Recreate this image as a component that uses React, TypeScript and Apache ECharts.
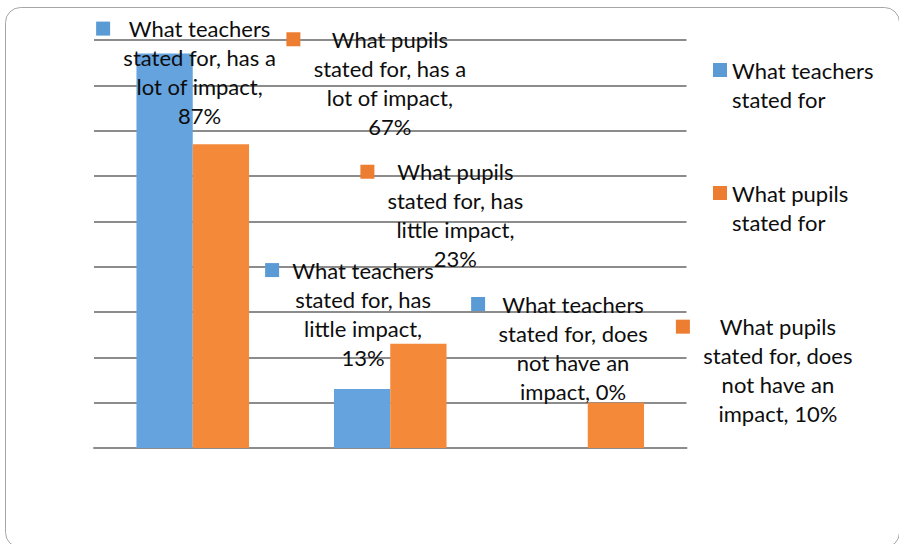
import React, { useEffect, useRef } from 'react';
import * as echarts from 'echarts';

// ---- data ----
const seriesNames = ['What teachers stated for', 'What pupils stated for'];
const categories = ['has a lot of impact', 'has little impact', 'does not have an impact'];
const teachersValues = [87, 13, 0];
const pupilsValues = [67, 23, 10];
// wrapped text of each category in the data labels ({v} = value)
const labelLineTemplates = [
  ['stated for, has a', 'lot of impact,', '{v}%'],
  ['stated for, has', 'little impact,', '{v}%'],
  ['stated for, does', 'not have an', 'impact, {v}%'],
];

// ---- layout / style ----
const FONT = 'Lato';
const FS = 22;
const LH = 29;
const TEXT_COLOR = '#0d0d0d';
const barColors = ['#65A3DF', '#F5893A'];
const keyColors = ['#5B9BD5', '#ED7D31'];
const labelOffsets = [
  [[22, 76.5], [-12, -17.5], [0.5, -42.5]],
  [[156, -3.5], [24, -70.5], [149, 25.5]],
];

function measure(text: string): number {
  const c = document.createElement('canvas');
  const ctx = c.getContext('2d');
  if (!ctx) return text.length * FS * 0.5;
  ctx.font = `${FS}px ${FONT}`;
  return ctx.measureText(text).width;
}

function buildLabel(si: number, ci: number, v: number) {
  const head = seriesNames[si].replace(' stated for', '');
  const lines = [head, ...labelLineTemplates[ci].map((l) => l.replace('{v}', String(v)))];
  const W = Math.ceil(Math.max(...lines.map(measure))) + 2;
  const formatter = lines
    .map((l, i) => (i === 0 ? `{sq|}{g|}{t|${l}}` : `{p|}{t|${l}}`))
    .join('\n');
  const rich = {
    sq: { width: 14, height: 14, backgroundColor: keyColors[si], lineHeight: LH },
    g: { width: 12, lineHeight: LH },
    p: { width: 26, lineHeight: LH },
    t: {
      width: W,
      align: 'center',
      fontFamily: FONT,
      fontSize: FS,
      color: TEXT_COLOR,
      lineHeight: LH,
    },
  };
  return {
    show: true,
    position: 'top',
    distance: 0,
    offset: labelOffsets[si][ci],
    formatter,
    rich,
  };
}

export default function App() {
  const ref = useRef<HTMLDivElement>(null);
  useEffect(() => {
    if (!ref.current) return;
    const chart = echarts.init(ref.current, undefined, { renderer: 'svg' });
    const allValues = [teachersValues, pupilsValues];
    chart.setOption({
      animation: false,
      backgroundColor: '#ffffff',
      textStyle: { fontFamily: FONT },
      graphic: [
        {
          type: 'rect',
          silent: true,
          z: -10,
          shape: { x: 5.5, y: 7.5, width: 894, height: 540, r: 15 },
          style: { fill: 'none', stroke: '#a6a6a6', lineWidth: 1 },
        },
      ],
      grid: { left: 94, right: 212.5, top: 40, bottom: 96 },
      legend: {
        orient: 'vertical',
        left: 713,
        top: 26.5,
        padding: 0,
        itemGap: 36,
        itemWidth: 14,
        itemHeight: 14,
        icon: 'rect',
        selectedMode: false,
        data: seriesNames.map((n, i) => ({ name: n, itemStyle: { color: keyColors[i] } })),
        // a leading blank line keeps the first text line level with the key
        formatter: (n: string) => ' \n' + n.replace(' stated', '\nstated'),
        textStyle: {
          fontFamily: FONT,
          fontSize: FS,
          color: TEXT_COLOR,
          lineHeight: LH,
        },
      },
      xAxis: {
        type: 'category',
        data: categories,
        axisLine: { show: true, lineStyle: { color: '#8c8c8c', width: 2 } },
        axisTick: { show: false },
        axisLabel: { show: false },
      },
      yAxis: {
        type: 'value',
        min: 0,
        max: 90,
        interval: 10,
        axisLine: { show: false },
        axisTick: { show: false },
        axisLabel: { show: false },
        splitLine: { show: true, lineStyle: { color: '#8c8c8c', width: 2 } },
      },
      series: seriesNames.map((name, si) => ({
        name,
        type: 'bar',
        barGap: '0%',
        barCategoryGap: '43%',
        itemStyle: { color: barColors[si] },
        data: allValues[si].map((v, ci) => ({ value: v, label: buildLabel(si, ci, v) })),
      })),
    });
    return () => chart.dispose();
  }, []);
  return (
    <div
      ref={ref}
      style={{ position: 'fixed', left: 0, top: 0, width: 899, height: 544, background: '#fff' }}
    />
  );
}
